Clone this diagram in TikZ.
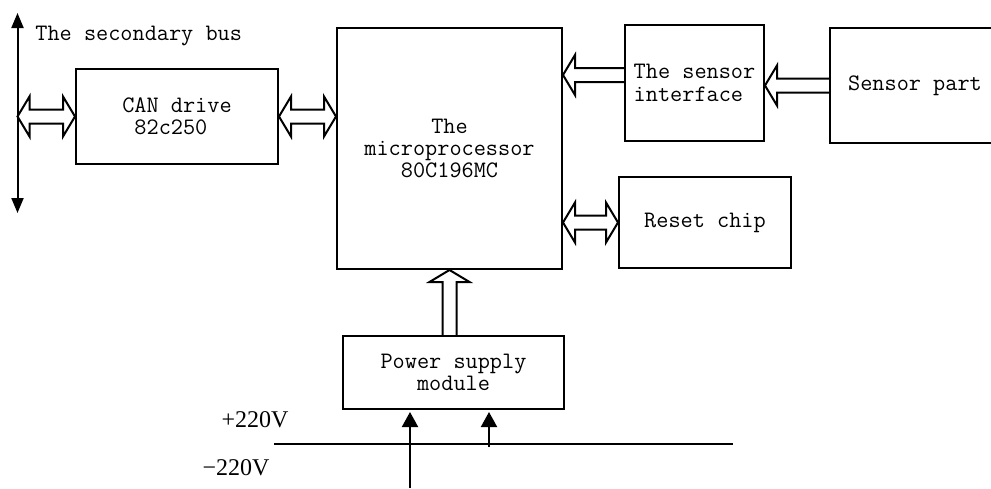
\documentclass[tikz,border=0pt]{standalone}
\usepackage{fontspec}
\usepackage{tikz}
\usetikzlibrary{arrows.meta,calc}
\newfontfamily\voltfont{Liberation Serif}
\definecolor{ink}{HTML}{000000}
\newcommand{\ashaft}{3.5pt}
\newcommand{\ahead}{10pt}
\newcommand{\alen}{6pt}
\tikzset{
  box/.style  = {draw=ink, line width=1pt, inner sep=2pt, text=ink,
                 font=\ttfamily\fontsize{11.8}{11.2}\selectfont},
  bl/.style   = {box, align=left},
  bc/.style   = {box, align=center},
  lbl/.style  = {text=ink, inner sep=0pt, font=\ttfamily\fontsize{11.8}{11.2}\selectfont},
  vlbl/.style = {text=ink, inner sep=0pt, font=\voltfont\fontsize{12}{13}\selectfont},
  wire/.style = {draw=ink, line width=1pt},
  arr/.style  = {wire, -{Triangle[length=7.5pt,width=8pt]}, shorten >=1pt},
  hol/.style  = {draw=ink, line width=1pt},
  dbl/.style  = {hol, to path={let \p1=(\tikztostart), \p2=(\tikztotarget) in
      (\x1,\y1) -- (\x1+\alen,\y1+\ahead) -- (\x1+\alen,\y1+\ashaft)
      -- (\x2-\alen,\y1+\ashaft) -- (\x2-\alen,\y1+\ahead) -- (\x2,\y1)
      -- (\x2-\alen,\y1-\ahead) -- (\x2-\alen,\y1-\ashaft)
      -- (\x1+\alen,\y1-\ashaft) -- (\x1+\alen,\y1-\ahead) -- cycle}},
  lft/.style  = {hol, to path={let \p1=(\tikztostart), \p2=(\tikztotarget) in
      (\x1,\y1+\ashaft) -- (\x2+\alen,\y1+\ashaft) -- (\x2+\alen,\y1+\ahead)
      -- (\x2,\y1) -- (\x2+\alen,\y1-\ahead) -- (\x2+\alen,\y1-\ashaft)
      -- (\x1,\y1-\ashaft)}},
  upa/.style  = {hol, to path={let \p1=(\tikztostart), \p2=(\tikztotarget) in
      (\x1-\ashaft,\y1) -- (\x1-\ashaft,\y2-\alen) -- (\x1-\ahead,\y2-\alen)
      -- (\x1,\y2) -- (\x1+\ahead,\y2-\alen) -- (\x1+\ashaft,\y2-\alen)
      -- (\x1+\ashaft,\y1)}},
}
\begin{document}
\begin{tikzpicture}[x=0.5pt, y=-0.5pt]
\useasboundingbox (0,0) rectangle (991,488);

% blocks, placed at their centres (pixel units)
\node[bc, minimum width=112.5pt, minimum height=120.5pt] (mcu)   at (449.5,148.5) {The\\microprocessor\\80C196MC};
\node[bl, minimum width=101pt,   minimum height=47.5pt]  (can)   at (177,116.5)   {CAN drive\\\ 82c250};
\node[bl, minimum width=69.5pt,  minimum height=58pt]    (sif)   at (694.5,83)    {The sensor\\interface};
\node[bc, minimum width=85pt,    minimum height=57.5pt]  (spart) at (915,85.5)    {Sensor part};
\node[bc, minimum width=86pt,    minimum height=45.5pt]  (reset) at (705,222.5)   {Reset chip};
\node[bc, minimum width=110.5pt, minimum height=36.5pt]  (power) at (453.5,372.5) {Power supply\\module};

% secondary bus
\coordinate (busT) at (17.5,13);
\coordinate (busB) at (17.5,213);
\draw[wire, {Triangle[length=7.5pt,width=6pt]}-{Triangle[length=7.5pt,width=6pt]}] (busB) -- (busT);
\node[lbl, anchor=west] (bustxt) at (35,36) {The secondary bus};

% hollow data arrows
\coordinate (sifport) at ([yshift=4pt]sif.west);
\draw[dbl] (busT |- can.west) to (can.west);
\draw[dbl] (can.east) to (mcu.west |- can.east);
\draw[lft] (sifport) to (mcu.east |- sifport);
\draw[lft] (spart.west) to (sif.east |- spart.west);
\draw[dbl] (mcu.east |- reset.west) to (reset.west);
\draw[upa] (mcu.south |- power.north) to (mcu.south);

% mains feed
\coordinate (railW) at (274,444);
\coordinate (railE) at (733,444);
\coordinate (feed)  at (410,488);
\coordinate (tap)   at (489,447);
\draw[wire] (railW) -- (railE);
\node[vlbl] (pos) at (255,420) {+220V};
\node[vlbl] (neg) at (236,468) {−220V};
\draw[arr] (feed) -- (feed |- power.south);
\draw[arr] (tap)  -- (tap |- power.south);

\end{tikzpicture}
\end{document}
